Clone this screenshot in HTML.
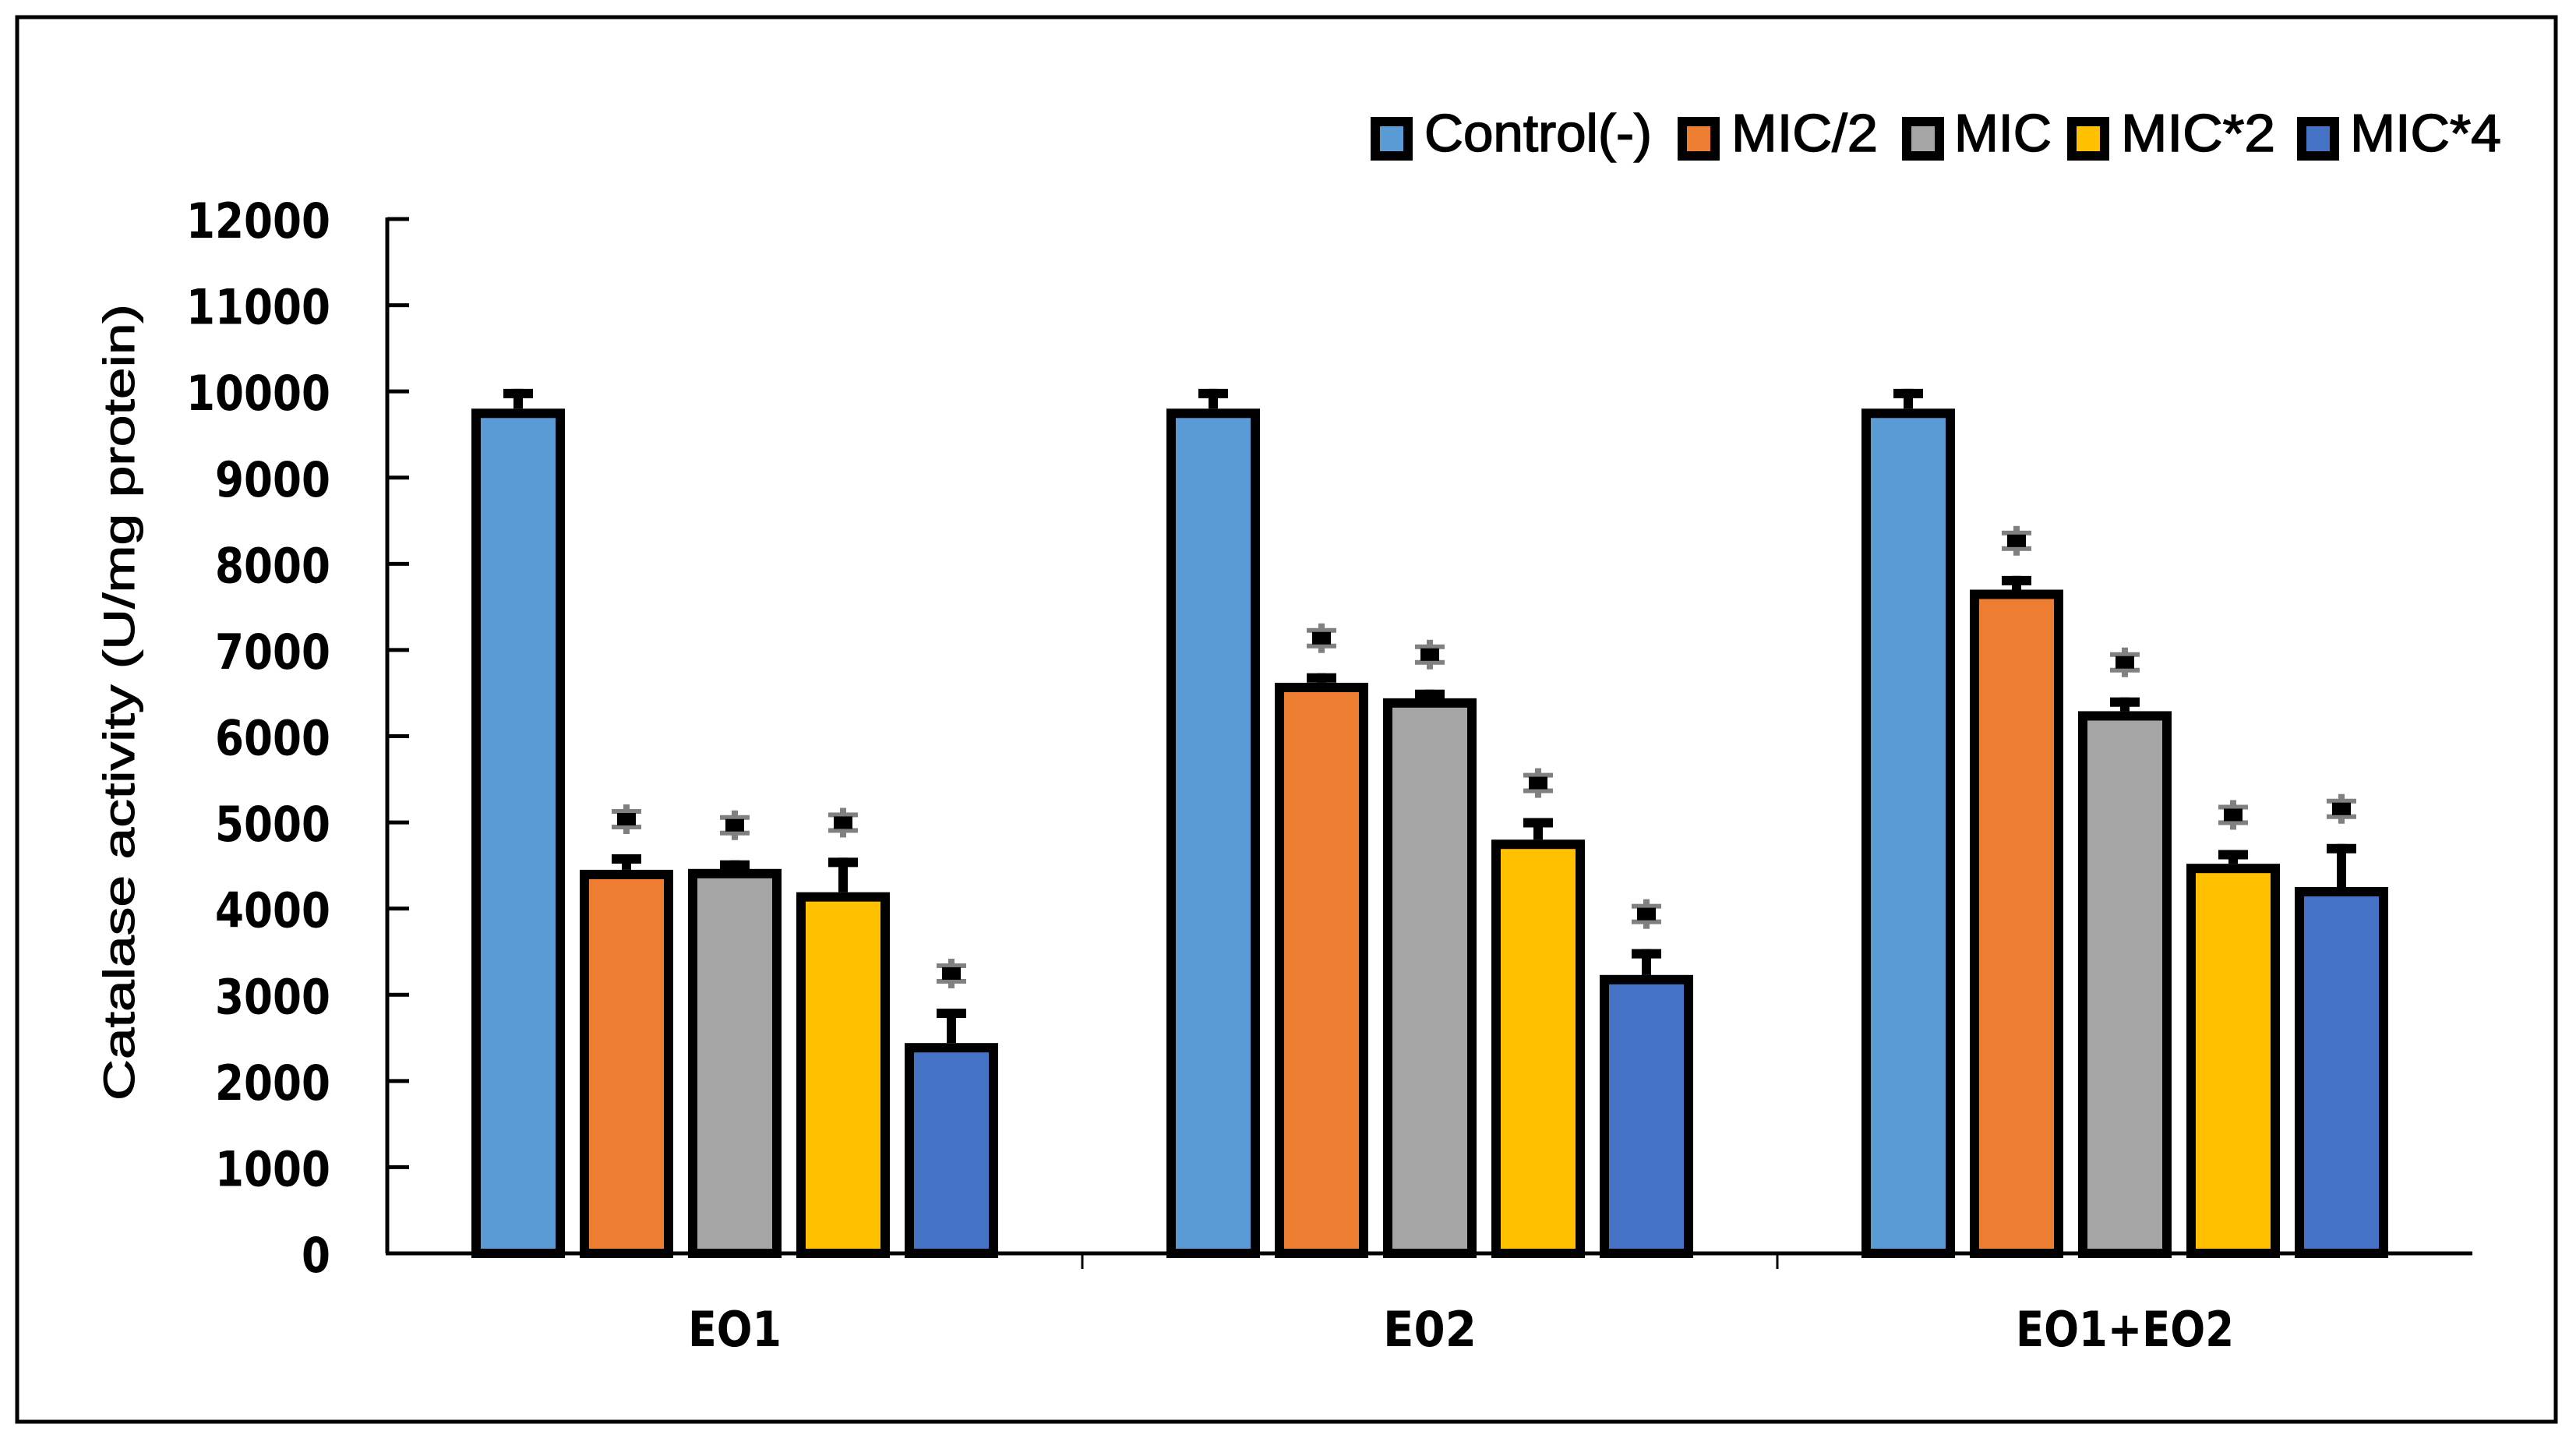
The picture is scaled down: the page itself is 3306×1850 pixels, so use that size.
<!DOCTYPE html>
<html><head><meta charset="utf-8"><style>html,body{margin:0;padding:0;background:#fff}svg{display:block}</style></head>
<body>
<svg id="chart" width="3306" height="1850" viewBox="0 0 3306 1850" xmlns="http://www.w3.org/2000/svg">
<rect x="22" y="22" width="3258" height="1802" fill="#fff" stroke="#000" stroke-width="5"/>
<g id="legend"></g>
<g id="axes"></g>
<g id="bars"></g>
<text transform="translate(172,901) rotate(-90)" text-anchor="middle" font-family="Liberation Sans, sans-serif" font-size="56" stroke="#000" stroke-width="1" textLength="1022" lengthAdjust="spacingAndGlyphs">Catalase activity (U/mg protein)</text>
</svg>
<script>
const categories=["EO1","E02","EO1+EO2"];
const seriesNames=["Control(-)","MIC/2","MIC","MIC*2","MIC*4"];
const control=[9800,9800,9800];
const micHalf=[4450,6620,7700];
const mic=[4460,6440,6290];
const micDouble=[4190,4800,4520];
const micQuad=[2440,3230,4250];
const errControl=[230,230,230];
const errMicHalf=[180,110,160];
const errMic=[100,100,160];
const errMicDouble=[400,250,160];
const errMicQuad=[400,300,500];
const starred=[false,true,true,true,true];
const yTicks=[0,1000,2000,3000,4000,5000,6000,7000,8000,9000,10000,11000,12000];

const NS="http://www.w3.org/2000/svg";
const colors=["#5B9BD5","#ED7D31","#A5A5A5","#FFC000","#4472C4"];
const X0=497,X1=3173,Y0=1608,Y1=281,YMAX=12000;
const y=v=>Y0-(v/YMAX)*(Y0-Y1);
const catW=(X1-X0)/categories.length;
const xc=i=>X0+catW*(i+0.5);
const pitch=139,barW=120,bw=12;
function mk(tag,attrs,parent){const e=document.createElementNS(NS,tag);for(const k in attrs)e.setAttribute(k,attrs[k]);parent.appendChild(e);return e;}
const axes=document.getElementById('axes'),bars=document.getElementById('bars'),legend=document.getElementById('legend');
let l=mk('line',{x1:X0,y1:Y1-2,x2:X0,y2:Y0,stroke:'#000','stroke-width':5},axes);


l=mk('line',{x1:X0-2,y1:Y0,x2:X1,y2:Y0,stroke:'#000','stroke-width':5},axes);


yTicks.forEach(t=>{
 const tk=mk('line',{x1:X0,y1:y(t),x2:X0+28,y2:y(t),stroke:'#000','stroke-width':5},axes);
 
 
 const s=String(t);
 const tx=mk('text',{x:424,y:y(t)+24,'text-anchor':'end','font-family':'DejaVu Sans, sans-serif','font-weight':'bold','font-size':62,textLength:37*s.length,lengthAdjust:'spacingAndGlyphs'},axes);
 tx.textContent=s;
 
 
});
for(let i=1;i<categories.length;i++){
 const tk=mk('line',{x1:X0+catW*i,y1:Y0,x2:X0+catW*i,y2:Y0+20,stroke:'#000','stroke-width':3},axes);
 
 
}
categories.forEach((c,i)=>{
 const tx=mk('text',{x:xc(i),y:1727,'text-anchor':'middle','font-family':'DejaVu Sans, sans-serif','font-weight':'bold','font-size':62,textLength:40*c.length,lengthAdjust:'spacingAndGlyphs'},axes);
 tx.textContent=c;
 
 
});
const vals=[control,micHalf,mic,micDouble,micQuad];
const errs=[errControl,errMicHalf,errMic,errMicDouble,errMicQuad];
categories.forEach((c,i)=>{
 vals.forEach((sv,s)=>{
  const cx=xc(i)+(s-2)*pitch, top=y(sv[i]), et=y(sv[i]+errs[s][i]);
  const r=mk('rect',{x:cx-barW/2+bw/2,y:top+bw/2,width:barW-bw,height:Y0-top-bw/2,fill:colors[s],stroke:'#000','stroke-width':bw},bars);
  
  
  const st=mk('line',{x1:cx,y1:top,x2:cx,y2:et,stroke:'#000','stroke-width':12},bars);
  
  
  const cp=mk('line',{x1:cx-19,y1:et+6,x2:cx+19,y2:et+6,stroke:'#000','stroke-width':12},bars);
  
  
  if(starred[s]){
   const sy=et-45;
   const g=mk('g',{},bars);
   
   
   mk('rect',{x:cx-19,y:sy-13,width:38,height:6,fill:'#808080'},g);
   mk('rect',{x:cx-19,y:sy+7,width:38,height:6,fill:'#808080'},g);
   mk('rect',{x:cx-4,y:sy-19,width:8,height:38,fill:'#808080'},g);
   mk('rect',{x:cx-12,y:sy-8,width:24,height:16,fill:'#000'},g);
   const a=mk('text',{x:cx,y:sy,'font-size':1,fill:'none'},g);
   a.textContent='*';
  }
 });
});
const legBox=[1759,2153,2441,2653,2948];
const legText=[[1828,292],[2222,188],[2508,125],[2722,198],[3016,194]];
seriesNames.forEach((n,s)=>{
 const b=mk('rect',{x:legBox[s]+6,y:156,width:42,height:44,fill:colors[s],stroke:'#000','stroke-width':12},legend);
 
 
 const t=mk('text',{x:legText[s][0],y:194,'font-family':'Liberation Sans, sans-serif','font-size':68,stroke:'#000','stroke-width':1.5,textLength:legText[s][1],lengthAdjust:'spacingAndGlyphs'},legend);
 t.textContent=n;
 
 
});
</script>
</body></html>
